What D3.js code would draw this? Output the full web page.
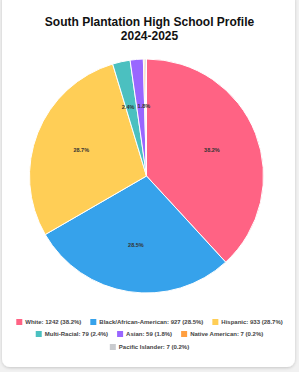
<!DOCTYPE html>
<html>
<head>
<meta charset="utf-8">
<script src="https://cdn.jsdelivr.net/npm/d3@7"></script>
<style>
  html, body { margin: 0; padding: 0; background: #f1f1f1; }
  svg { display: block; font-family: "Liberation Sans", Arial, sans-serif; }
</style>
</head>
<body>
<div id="chart"></div>
<script>
const groups = ["White", "Black/African-American", "Hispanic", "Multi-Racial", "Asian", "Native American", "Pacific Islander"]
const counts = [1242, 927, 933, 79, 59, 7, 7]
const percents = [38.2, 28.5, 28.7, 2.4, 1.8, 0.2, 0.2]
const colors = ["#FF6384", "#36A2EB", "#FFCE56", "#4BC0C0", "#9966FF", "#FF9F40", "#C9CBCF"]
const legendRows = [[0, 1, 2], [3, 4, 5], [6]]

const W = 299, H = 372
const cx = 146.5, cy = 176, r = 117

const svg = d3.select("#chart").append("svg")
  .attr("width", W)
  .attr("height", H)

const defs = svg.append("defs")
const shadow = defs.append("filter").attr("id", "shadow")
  .attr("x", "-10%").attr("y", "-10%").attr("width", "120%").attr("height", "120%")
shadow.append("feDropShadow")
  .attr("dx", 0).attr("dy", 1).attr("stdDeviation", 1.5)
  .attr("flood-color", "#000").attr("flood-opacity", 0.18)

// card
svg.append("rect")
  .attr("x", 2).attr("y", -8)
  .attr("width", 293).attr("height", 375)
  .attr("rx", 8)
  .attr("fill", "#fff")
  .attr("filter", "url(#shadow)")

// title
const title = svg.append("text")
  .attr("text-anchor", "middle")
  .attr("font-size", 12)
  .attr("font-weight", "bold")
  .attr("fill", "#111")
title.append("tspan").attr("x", W / 2).attr("y", 26).text("South Plantation High School Profile")
title.append("tspan").attr("x", W / 2).attr("y", 40).text("2024-2025")

const data = groups.map((g, i) => ({ name: g, count: counts[i], pct: percents[i], color: colors[i] }))

const pie = d3.pie().sort(null).value(d => d.count)
const arc = d3.arc().innerRadius(0).outerRadius(r)
const labelArc = d3.arc().innerRadius(r * 0.6).outerRadius(r * 0.6)

const g = svg.append("g").attr("transform", `translate(${cx},${cy})`)
const arcs = pie(data)

g.selectAll("path")
  .data(arcs).enter().append("path")
  .attr("d", arc)
  .attr("fill", d => d.data.color)
  .attr("stroke", "#fff")
  .attr("stroke-width", 1)

// the two thin slices sit side by side, so anchor their labels toward each other
const labelData = arcs.filter(d => d.data.pct >= 1)
g.selectAll("text")
  .data(labelData).enter().append("text")
  .attr("transform", d => `translate(${labelArc.centroid(d)})`)
  .attr("text-anchor", d => d.data.pct >= 5 ? "middle" : (d.index === 3 ? "end" : "start"))
  .attr("dx", d => d.data.pct >= 5 ? 0 : (d.index === 3 ? 3 : -3))
  .attr("dy", "0.35em")
  .attr("font-size", 5.5)
  .attr("font-weight", "bold")
  .attr("fill", "#333")
  .text(d => d.data.pct.toFixed(1) + "%")

// legend
const rowY = [322, 334, 347]
const box = 6, boxGap = 3, itemGap = 9

legendRows.forEach((row, ri) => {
  const rowG = svg.append("g")
  let x = 0
  row.forEach(i => {
    const item = rowG.append("g").attr("transform", `translate(${x},0)`)
    item.append("rect")
      .attr("x", 0).attr("y", rowY[ri] - box / 2)
      .attr("width", box).attr("height", box)
      .attr("fill", colors[i])
    const t = item.append("text")
      .attr("x", box + boxGap).attr("y", rowY[ri])
      .attr("dy", "0.35em")
      .attr("font-size", 6)
      .attr("font-weight", "bold")
      .attr("fill", "#444")
      .text(`${groups[i]}: ${counts[i]} (${percents[i].toFixed(1)}%)`)
    x += box + boxGap + t.node().getComputedTextLength() + itemGap
  })
  const total = x - itemGap
  rowG.attr("transform", `translate(${(W - total) / 2},0)`)
})
</script>
</body>
</html>
